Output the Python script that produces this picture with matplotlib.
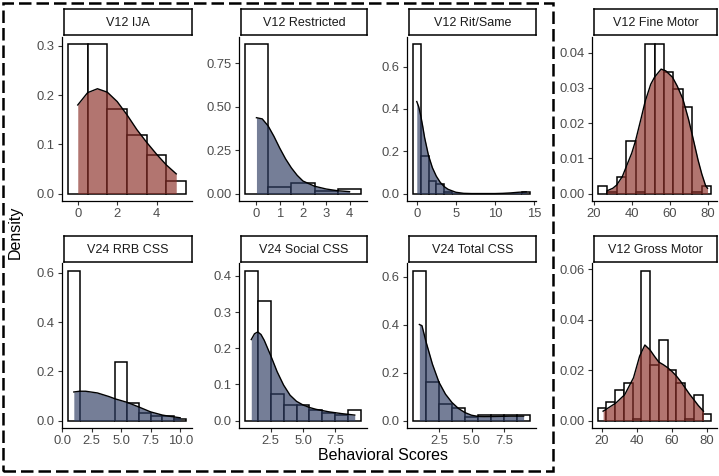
import numpy as np
import matplotlib
matplotlib.use("Agg")
import matplotlib.pyplot as plt
from matplotlib.patches import Rectangle

plt.rcParams['font.family'] = ['Liberation Sans', 'DejaVu Sans']

RED = "#8a2d26"
BLUE = "#2d3c62"

# ---------------- data ----------------
# V12 IJA
ija_bins = [0, 1, 2, 3, 4, 5]
ija_hist = [0.303, 0.303, 0.172, 0.118, 0.078, 0.026]
ija_dx = [0, 0.5, 1, 1.5, 2, 2.5, 3, 3.5, 4, 4.5, 5]
ija_dy = [0.18, 0.205, 0.213, 0.206, 0.187, 0.16, 0.13, 0.104, 0.08, 0.058, 0.04]

# V12 Restricted
res_bins = [0, 1, 2, 3, 4]
res_hist = [0.859, 0.036, 0.062, 0.014, 0.024]
res_dx = [0, 0.25, 0.5, 0.75, 1, 1.25, 1.5, 1.75, 2, 2.5, 3, 3.5, 4]
res_dy = [0.437, 0.43, 0.39, 0.33, 0.262, 0.2, 0.148, 0.105, 0.072, 0.042, 0.026, 0.016, 0.011]

# V12 Rit/Same
rit_bins = list(range(15))
rit_hist = [0.705, 0.176, 0.058, 0.047, 0.006, 0, 0, 0, 0, 0, 0, 0, 0, 0, 0.008]
rit_dx = [0, 0.25, 0.5, 0.75, 1, 1.5, 2, 2.5, 3, 3.5, 4, 5, 6, 7, 8, 9, 10, 11, 12, 13, 14]
rit_dy = [0.435, 0.41, 0.37, 0.32, 0.265, 0.18, 0.122, 0.082, 0.053, 0.033, 0.02, 0.006, 0.001,
          0, 0, 0, 0, 0.001, 0.003, 0.006, 0.008]

# V12 Fine Motor
fine_bins = [24.5, 29.5, 34.5, 39.5, 44.5, 49.5, 54.5, 59.5, 64.5, 69.5, 74.5, 79.5]
fine_hist = [0.0022, 0.0005, 0.0047, 0.0148, 0.0005, 0.0423, 0.0423, 0.0346, 0.0296, 0.0246, 0.0005, 0.0022]
fine_dx = [27, 30, 32, 35, 37, 40, 42, 45, 47, 50, 52, 55.5, 58, 61.5, 64, 67, 70, 72, 75, 77, 79, 80]
fine_dy = [0.0008, 0.0015, 0.0024, 0.0048, 0.0075, 0.0115, 0.015, 0.0215, 0.026, 0.031, 0.033, 0.0353,
           0.0348, 0.033, 0.0305, 0.0268, 0.021, 0.0165, 0.0095, 0.0055, 0.0022, 0.0015]

# V24 RRB CSS
rrb_bins = [1, 2, 3, 4, 5, 6, 7, 8, 9, 10]
rrb_hist = [0.61, 0, 0, 0, 0.236, 0.072, 0.031, 0.02, 0.02, 0.006]
rrb_dx = [1, 1.5, 2, 3, 4, 4.5, 5.5, 6.5, 7.5, 8.5, 9, 10]
rrb_dy = [0.116, 0.119, 0.119, 0.112, 0.097, 0.088, 0.074, 0.055, 0.035, 0.022, 0.018, 0.011]

# V24 Social CSS
soc_bins = [1, 2, 3, 4, 5, 6, 7, 8, 9]
soc_hist = [0.415, 0.33, 0.074, 0.042, 0.042, 0.03, 0.021, 0.015, 0.03]
soc_dx = [1, 1.25, 1.5, 1.75, 2, 2.5, 3, 3.5, 4, 4.5, 5, 5.5, 6, 7, 8, 9]
soc_dy = [0.224, 0.24, 0.245, 0.238, 0.222, 0.18, 0.135, 0.098, 0.07, 0.053, 0.043, 0.036, 0.031,
          0.024, 0.019, 0.015]

# V24 Total CSS
tot_bins = [1, 2, 3, 4, 5, 6, 7, 8, 9]
tot_hist = [0.625, 0.16, 0.067, 0.053, 0.014, 0.021, 0.021, 0.021, 0.021]
tot_dx = [1, 1.2, 1.5, 2, 2.5, 3, 3.5, 4, 4.5, 5, 5.5, 6, 7, 8, 9]
tot_dy = [0.4, 0.395, 0.33, 0.235, 0.16, 0.11, 0.075, 0.05, 0.033, 0.022, 0.017, 0.016, 0.017,
          0.018, 0.018]

# V12 Gross Motor
gro_bins = [20, 25, 30, 35, 40, 45, 50, 55, 60, 65, 70, 75, 80]
gro_hist = [0.005, 0.0074, 0.0123, 0.015, 0.0005, 0.0596, 0.0222, 0.032, 0.0199, 0.015, 0.0005, 0.01, 0.0024]
gro_dx = [20.6, 24, 28, 33, 38, 41.5, 44.5, 47.5, 50, 52.5, 55, 57.5, 60, 62.5, 65, 67.5, 70, 72.5, 75, 78]
gro_dy = [0.0037, 0.0052, 0.007, 0.0103, 0.017, 0.0256, 0.0300, 0.028, 0.0255, 0.0232, 0.0222, 0.021,
          0.0195, 0.0177, 0.0155, 0.013, 0.0105, 0.0083, 0.006, 0.0037]

# ---------------- panels ----------------
panels = [
    ("V12 IJA", ija_bins, ija_hist, 1, ija_dx, ija_dy, RED, 0, 0,
     [0, 2, 4], ["0", "2", "4"], [0, 0.1, 0.2, 0.3], ["0.0", "0.1", "0.2", "0.3"]),
    ("V12 Restricted", res_bins, res_hist, 1, res_dx, res_dy, BLUE, 0, 1,
     [0, 1, 2, 3, 4], ["0", "1", "2", "3", "4"], [0, 0.25, 0.5, 0.75], ["0.00", "0.25", "0.50", "0.75"]),
    ("V12 Rit/Same", rit_bins, rit_hist, 1, rit_dx, rit_dy, BLUE, 0, 2,
     [0, 5, 10, 15], ["0", "5", "10", "15"], [0, 0.2, 0.4, 0.6], ["0.0", "0.2", "0.4", "0.6"]),
    ("V12 Fine Motor", fine_bins, fine_hist, 5, fine_dx, fine_dy, RED, 0, 3,
     [20, 40, 60, 80], ["20", "40", "60", "80"], [0, 0.01, 0.02, 0.03, 0.04],
     ["0.00", "0.01", "0.02", "0.03", "0.04"]),
    ("V24 RRB CSS", rrb_bins, rrb_hist, 1, rrb_dx, rrb_dy, BLUE, 1, 0,
     [0, 2.5, 5, 7.5, 10], ["0.0", "2.5", "5.0", "7.5", "10.0"], [0, 0.2, 0.4, 0.6],
     ["0.0", "0.2", "0.4", "0.6"]),
    ("V24 Social CSS", soc_bins, soc_hist, 1, soc_dx, soc_dy, BLUE, 1, 1,
     [2.5, 5, 7.5], ["2.5", "5.0", "7.5"], [0, 0.1, 0.2, 0.3, 0.4], ["0.0", "0.1", "0.2", "0.3", "0.4"]),
    ("V24 Total CSS", tot_bins, tot_hist, 1, tot_dx, tot_dy, BLUE, 1, 2,
     [2.5, 5, 7.5], ["2.5", "5.0", "7.5"], [0, 0.2, 0.4, 0.6], ["0.0", "0.2", "0.4", "0.6"]),
    ("V12 Gross Motor", gro_bins, gro_hist, 5, gro_dx, gro_dy, RED, 1, 3,
     [20, 40, 60, 80], ["20", "40", "60", "80"], [0, 0.02, 0.04, 0.06], ["0.00", "0.02", "0.04", "0.06"]),
]

W, H = 719, 476
col_x = [(62, 192), (239, 367), (407, 536), (592, 717)]
row_y = [(37, 201), (263, 428)]
strip_y = [(9, 35), (236, 262)]

fig = plt.figure(figsize=(W / 100, H / 100), dpi=100)


def frect(x0, x1, y0, y1):
    return [x0 / W, 1 - y1 / H, (x1 - x0) / W, (y1 - y0) / H]


for (title, bins, hist, bw, dx, dy, col, r, c, xt, xtl, yt, ytl) in panels:
    x0, x1 = col_x[c]
    y0, y1 = row_y[r]
    ax = fig.add_axes(frect(x0, x1, y0, y1))
    bins = np.array(bins, dtype=float)
    ax.bar(bins, hist, width=bw, color="white", edgecolor="black", linewidth=1.1, zorder=2)
    ax.fill_between(dx, dy, 0, color=col, alpha=0.66, linewidth=0, zorder=3)
    ax.plot(dx, dy, color="black", linewidth=1.0, zorder=4)

    lo = min(bins.min() - bw / 2, min(dx))
    hi = max(bins.max() + bw / 2, max(dx))
    pad = (hi - lo) * 0.05
    ax.set_xlim(lo - pad, hi + pad)
    top = max(max(hist), max(dy))
    ax.set_ylim(-top * 0.05, top * 1.05)

    ax.set_xticks(xt)
    ax.set_xticklabels(xtl)
    ax.set_yticks(yt)
    ax.set_yticklabels(ytl)
    ax.tick_params(labelsize=9.4, labelcolor="#4d4d4d", color="#333333", length=3.2, width=0.8, pad=2)
    for s in ["top", "right"]:
        ax.spines[s].set_visible(False)
    for s in ["left", "bottom"]:
        ax.spines[s].set_linewidth(0.9)
    ax.set_facecolor("white")

    sy0, sy1 = strip_y[r]
    sax = fig.add_axes(frect(x0 + 2, x1, sy0, sy1))
    sax.set_xticks([])
    sax.set_yticks([])
    for s in sax.spines.values():
        s.set_linewidth(1.1)
    sax.text(0.5, 0.47, title, ha="center", va="center", fontsize=9.0, color="#1a1a1a",
             transform=sax.transAxes)

fig.text(15 / W, 1 - 232 / H, "Density", rotation=90, ha="center", va="center", fontsize=11.5)
fig.text(383 / W, 1 - 455 / H, "Behavioral Scores", ha="center", va="center", fontsize=11.5)

box = Rectangle((3 / W, 1 - 471 / H), 550 / W, 468 / H, transform=fig.transFigure, fill=False,
                edgecolor="black", linewidth=1.8, linestyle=(0, (5, 2)))
fig.patches.append(box)

fig.savefig("out.png", dpi=100)
